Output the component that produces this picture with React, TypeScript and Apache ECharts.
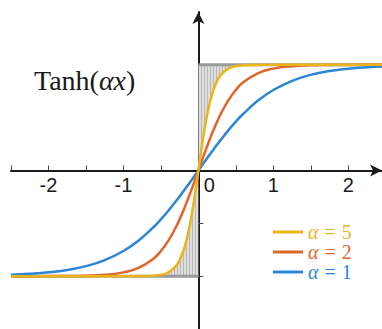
import React, { useEffect, useRef } from "react";
import * as echarts from "echarts";

const xs = [-2.5, -2.25, -2, -1.75, -1.5, -1.25, -1, -0.8, -0.6, -0.5, -0.4, -0.3, -0.25, -0.2, -0.15, -0.1, -0.05, 0, 0.05, 0.1, 0.15, 0.2, 0.25, 0.3, 0.4, 0.5, 0.6, 0.8, 1, 1.25, 1.5, 1.75, 2, 2.25, 2.45];
const alpha1 = [-0.987, -0.978, -0.964, -0.941, -0.905, -0.848, -0.762, -0.664, -0.537, -0.462, -0.38, -0.291, -0.245, -0.197, -0.149, -0.1, -0.05, 0, 0.05, 0.1, 0.149, 0.197, 0.245, 0.291, 0.38, 0.462, 0.537, 0.664, 0.762, 0.848, 0.905, 0.941, 0.964, 0.978, 0.985];
const alpha2 = [-1, -1, -0.999, -0.998, -0.995, -0.987, -0.964, -0.922, -0.834, -0.762, -0.664, -0.537, -0.462, -0.38, -0.291, -0.197, -0.1, 0, 0.1, 0.197, 0.291, 0.38, 0.462, 0.537, 0.664, 0.762, 0.834, 0.922, 0.964, 0.987, 0.995, 0.998, 0.999, 1, 1];
const alpha5 = [-1, -1, -1, -1, -1, -1, -1, -0.999, -0.995, -0.987, -0.964, -0.905, -0.848, -0.762, -0.635, -0.462, -0.245, 0, 0.245, 0.462, 0.635, 0.762, 0.848, 0.905, 0.964, 0.987, 0.995, 0.999, 1, 1, 1, 1, 1, 1, 1];
const stepUpperX = [0, 2.45];
const stepUpperY = [1, 1];
const stepLowerX = [-2.5, 0];
const stepLowerY = [-1, -1];
const xTickValues = [-2.5, -2, -1.5, -1, -0.5, 0.5, 1, 1.5, 2];
const xLabelValues = [-2, -1, 0, 1, 2];
const yTickValues = [-1, -0.5, 0.5, 1];
const legendNames = ["α = 5", "α = 2", "α = 1"];
const legendValues = ["5", "2", "1"];

const YELLOW = "#EBB51A";
const ORANGE = "#E0652A";
const BLUE = "#2C86D6";

const GRID_TOP = 12;
const GRID_BOTTOM = 0;
const CHART_H = 329;
const Y_MIN = -1.5;
const Y_MAX = 1.5;

const pair = (a: number[], b: number[]) => a.map((x, i) => [x, b[i]]);

export default function App() {
  const ref = useRef<HTMLDivElement>(null);
  useEffect(() => {
    if (!ref.current) return;
    const chart = echarts.init(ref.current, null, { renderer: "svg" });
    const cv = document.createElement("canvas");
    cv.width = 3;
    cv.height = 4;
    const ctx = cv.getContext("2d")!;
    ctx.fillStyle = "#dedede";
    ctx.fillRect(0, 0, 3, 4);
    ctx.fillStyle = "#b8b8b8";
    ctx.fillRect(0, 0, 1, 4);
    const pattern: any = { image: cv, repeat: "repeat" };

    const upperShade = pair(xs, alpha5).filter((p) => p[0] >= 0 && p[0] <= 0.8);
    const lowerShade = pair(xs, alpha5).filter((p) => p[0] <= 0 && p[0] >= -0.8);
    const colors = [YELLOW, ORANGE, BLUE];
    const keys = ["y", "o", "b"];

    const gridH = CHART_H - GRID_TOP - GRID_BOTTOM;
    const zeroOffset = (gridH * (0 - Y_MIN)) / (Y_MAX - Y_MIN);

    const curve = (name: string, ys: number[], color: string) => ({
      name,
      type: "line",
      data: pair(xs, ys),
      smooth: 0.5,
      showSymbol: false,
      color,
      lineStyle: { color, width: 2.5 },
      z: 3,
    });

    const legendRich: Record<string, any> = {};
    keys.forEach((k, i) => {
      const base = { color: colors[i], fontFamily: "Liberation Serif", fontSize: 20, lineHeight: 20 };
      legendRich[k + "a"] = { ...base, fontStyle: "italic" };
      legendRich[k + "e"] = { ...base, padding: [0, 6, 0, 6] };
      legendRich[k + "n"] = { ...base };
    });

    chart.setOption({
      animation: false,
      grid: { left: 11, right: 0, top: GRID_TOP, bottom: GRID_BOTTOM, outerBoundsMode: "none", containLabel: false },
      title: {
        text: "{n|Tanh(}{i|αx}{n|)}",
        left: 34,
        top: 66,
        padding: 0,
        textStyle: {
          fontWeight: "normal",
          rich: {
            n: { fontFamily: "Liberation Serif", fontSize: 28, fontWeight: "normal", color: "#1a1a1a" },
            i: { fontFamily: "Liberation Serif", fontSize: 28, fontWeight: "normal", fontStyle: "italic", color: "#1a1a1a" },
          },
        },
      },
      legend: {
        orient: "vertical",
        left: 273,
        top: 222,
        padding: 0,
        itemWidth: 30,
        itemHeight: 3,
        itemGap: 0,
        icon: "rect",
        data: legendNames,
        formatter: (name: string) => {
          const i = legendNames.indexOf(name);
          const k = keys[i];
          return `{${k}a|α}{${k}e|=}{${k}n|${legendValues[i]}}`;
        },
        textStyle: { lineHeight: 20, rich: legendRich },
      },
      xAxis: [
        {
          type: "value",
          min: -2.5,
          max: 2.45,
          interval: 0.5,
          splitLine: { show: false },
          axisLine: {
            onZero: true,
            symbol: ["none", "arrow"],
            symbolSize: [9, 12],
            lineStyle: { color: "#1a1a1a", width: 2 },
          },
          axisTick: { show: false },
          axisLabel: { show: false },
        },
        {
          type: "value",
          position: "bottom",
          offset: -zeroOffset,
          min: -2.5,
          max: 2.45,
          interval: 0.5,
          splitLine: { show: false },
          axisLine: { show: false, onZero: false },
          axisTick: {
            show: true,
            inside: true,
            length: 5,
            customValues: xTickValues,
            lineStyle: { color: "#444", width: 1 },
          },
          axisLabel: {
            customValues: xLabelValues,
            margin: 4,
            fontFamily: "Liberation Sans",
            fontSize: 20,
            color: "#1a1a1a",
            formatter: (v: number) => (v === 0 ? "{z|0}" : String(v)),
            rich: { z: { padding: [0, 0, 0, 22], fontFamily: "Liberation Sans", fontSize: 20, color: "#1a1a1a" } },
          },
        },
      ],
      yAxis: {
        type: "value",
        min: Y_MIN,
        max: Y_MAX,
        interval: 0.5,
        splitLine: { show: false },
        axisLine: {
          onZero: true,
          symbol: ["none", "arrow"],
          symbolSize: [9, 12],
          lineStyle: { color: "#1a1a1a", width: 2 },
        },
        axisTick: {
          inside: true,
          length: 5,
          customValues: yTickValues,
          lineStyle: { color: "#444", width: 1 },
        },
        axisLabel: { show: false },
      },
      series: [
        {
          type: "line",
          data: upperShade,
          smooth: 0.5,
          showSymbol: false,
          lineStyle: { width: 0, opacity: 0 },
          areaStyle: { origin: 1, color: pattern, opacity: 1 },
          silent: true,
          z: 1,
        },
        {
          type: "line",
          data: lowerShade,
          smooth: 0.5,
          showSymbol: false,
          lineStyle: { width: 0, opacity: 0 },
          areaStyle: { origin: -1, color: pattern, opacity: 1 },
          silent: true,
          z: 1,
        },
        {
          type: "line",
          data: pair(stepUpperX, stepUpperY),
          showSymbol: false,
          lineStyle: { color: "#9a9a9a", width: 3 },
          z: 2,
        },
        {
          type: "line",
          data: pair(stepLowerX, stepLowerY),
          showSymbol: false,
          lineStyle: { color: "#9a9a9a", width: 3 },
          z: 2,
        },
        curve("α = 1", alpha1, BLUE),
        curve("α = 2", alpha2, ORANGE),
        curve("α = 5", alpha5, YELLOW),
      ],
    });
    return () => chart.dispose();
  }, []);
  return (
    <div
      ref={ref}
      style={{ position: "absolute", left: 0, top: 0, width: 382, height: 329, background: "#fff" }}
    />
  );
}
